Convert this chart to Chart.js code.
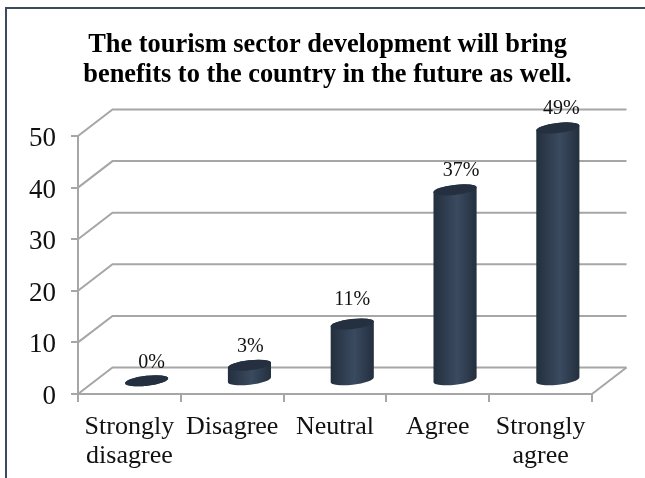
<!DOCTYPE html>
<html>
<head>
<meta charset="utf-8">
<style>
  html, body { margin: 0; padding: 0; background: #fff; overflow: hidden; }
  #frame { position: absolute; left: 5px; top: 7px; width: 640px; height: 471px; border: solid #3b4a5e; border-width: 2px 0 0 2px; box-sizing: border-box; }
  #wrap { position: absolute; left: 0; top: 0; width: 645px; height: 478px; }
</style>
<script src="https://cdn.jsdelivr.net/npm/chart.js@4"></script>
</head>
<body>
<div id="wrap"><canvas id="c" width="645" height="478"></canvas></div>
<div id="frame"></div>
<script>
const titleLines = ['The tourism sector development will bring', 'benefits to the country in the future as well.'];
const categories = [['Strongly', 'disagree'], 'Disagree', 'Neutral', 'Agree', ['Strongly', 'agree']];
const responses = [0, 3, 11, 37, 49];
const yTicks = [0, 10, 20, 30, 40, 50];

const GRID = '#a6a6a6';
const RULE = 2;
const DEPTH_X = 34.5, DEPTH_Y = 26.5;
const SERIF = '"Liberation Serif", serif';
// hand placement of each percentage label relative to its cylinder top
const labelShiftX = [5, 1, 0, 6, 3.5];
const labelLift = [18, 19, 24, 19, 19];

// Perspective walls: side wall diagonals, back wall rules and the floor edge
const walls = {
  id: 'walls',
  afterLayout(chart) {
    // the heading sits centred over plot and depth together
    chart.titleBlock.left += 27.5;
    chart.titleBlock.right += 27.5;
  },
  beforeDraw(chart) {
    // optical centring of the value labels against their tick marks
    chart.scales.y.getLabelItems(chart.chartArea).forEach(item => { item.textOffset += 3; });
  },
  beforeDatasetsDraw(chart) {
    const { ctx, scales: { x, y } } = chart;
    ctx.save();
    ctx.strokeStyle = GRID;
    ctx.lineWidth = RULE;
    yTicks.forEach(v => {
      const py = y.getPixelForValue(v);
      ctx.beginPath();
      ctx.moveTo(x.left, py);
      ctx.lineTo(x.left + DEPTH_X, py - DEPTH_Y);
      ctx.lineTo(x.right + DEPTH_X, py - DEPTH_Y);
      ctx.stroke();
    });
    const p0 = y.getPixelForValue(0);
    ctx.beginPath();
    ctx.moveTo(x.right, p0);
    ctx.lineTo(x.right + DEPTH_X, p0 - DEPTH_Y);
    ctx.stroke();
    ctx.restore();
  }
};

// Bars are rendered as tilted cylinders standing halfway into the floor
const cylinders = {
  id: 'cylinders',
  beforeDatasetDraw(chart, args) {
    const { ctx } = chart;
    const rot = -6.5 * Math.PI / 180;
    const a = 21.7, b = 5;
    ctx.save();
    args.meta.data.forEach((bar, i) => {
      const cx = bar.x + DEPTH_X / 2;
      const top = bar.y - DEPTH_Y / 2;
      const base = bar.base - DEPTH_Y / 2;
      const g = ctx.createLinearGradient(cx - a, 0, cx + a, 0);
      g.addColorStop(0, '#232f3e');
      g.addColorStop(0.55, '#3a4a5f');
      g.addColorStop(1, '#232f3e');
      ctx.fillStyle = g;
      ctx.beginPath();
      ctx.ellipse(cx, base, a, b, rot, 0, Math.PI);
      ctx.ellipse(cx, top, a, b, rot, Math.PI, 2 * Math.PI);
      ctx.closePath();
      ctx.fill();
      ctx.fillStyle = '#243040';
      ctx.beginPath();
      ctx.ellipse(cx, top, a, b, rot, 0, 2 * Math.PI);
      ctx.fill();

      // percentage label above the cylinder
      ctx.fillStyle = '#111';
      ctx.font = '20px ' + SERIF;
      ctx.textAlign = 'center';
      ctx.textBaseline = 'middle';
      ctx.fillText(responses[i] + '%', cx + labelShiftX[i], top - labelLift[i]);
    });
    ctx.restore();
    return false;
  }
};

new Chart(document.getElementById('c'), {
  type: 'bar',
  data: {
    labels: categories,
    datasets: [{ data: responses, backgroundColor: '#2c3a4c', barPercentage: 0.42, categoryPercentage: 1 }]
  },
  plugins: [walls, cylinders],
  options: {
    responsive: false,
    animation: false,
    layout: { padding: { left: 8, right: 53, top: 0, bottom: 0 } },
    plugins: {
      legend: { display: false },
      tooltip: { enabled: false },
      title: {
        display: true,
        text: titleLines,
        color: '#000',
        font: { family: SERIF, size: 26.4, weight: 'bold', lineHeight: 1.15 },
        padding: { top: 30, bottom: 45.3 }
      }
    },
    scales: {
      x: {
        grid: { display: true, drawOnChartArea: false, drawTicks: true, tickLength: 8, color: GRID, lineWidth: RULE, offset: true },
        border: { color: GRID, width: RULE },
        ticks: { color: '#111', font: { family: SERIF, size: 26, lineHeight: 1.11 }, maxRotation: 0, autoSkip: false, padding: 10.5 },
        afterFit(s) { s.height = 478 - 394; }
      },
      y: {
        min: 0,
        max: 50,
        grid: { display: true, drawOnChartArea: false, drawTicks: true, tickLength: 7, color: GRID, lineWidth: RULE },
        border: { color: GRID, width: RULE },
        ticks: { color: '#111', font: { family: SERIF, size: 27 }, stepSize: 10, padding: 15 },
        afterFit(s) { s.width = 78 - 8; }
      }
    }
  }
});
</script>
</body>
</html>
